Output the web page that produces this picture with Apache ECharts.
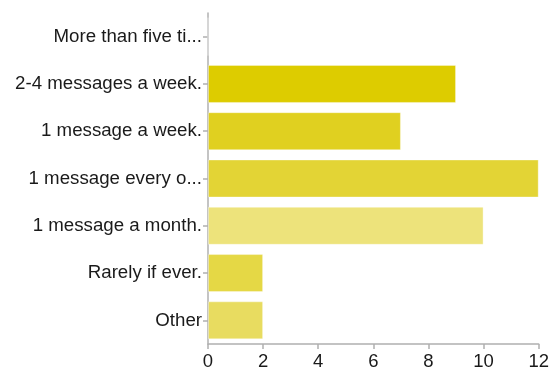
<!DOCTYPE html>
<html>
<head>
<meta charset="utf-8">
<script src="https://cdn.jsdelivr.net/npm/echarts@6/dist/echarts.min.js"></script>
<style>html,body{margin:0;padding:0;background:#fff;}#c{width:552px;height:372px;}</style>
</head>
<body>
<div id="c"></div>
<script>
const categories = ["More than five ti...", "2-4 messages a week.", "1 message a week.", "1 message every o...", "1 message a month.", "Rarely if ever.", "Other"];
const values = [0, 9, 7, 12, 10, 2, 2];
const barColors = ["#DDCC00", "#DDCC00", "#E0D020", "#E3D435", "#EDE37B", "#E5D845", "#E8DC60"];
const xTicks = [0, 2, 4, 6, 8, 10, 12];

const chart = echarts.init(document.getElementById('c'), null, {renderer: 'canvas'});
chart.setOption({
  animation: false,
  grid: {left: 208, right: 13, top: 13, bottom: 28, containLabel: false},
  xAxis: {
    type: 'value', min: xTicks[0], max: xTicks[xTicks.length - 1], interval: 2,
    axisLine: {show: true, lineStyle: {color: '#b0b0b0', width: 1.5}},
    axisTick: {show: true, length: 5, lineStyle: {color: '#b0b0b0', width: 1.5}},
    splitLine: {show: false},
    axisLabel: {color: '#1a1a1a', fontSize: 18.5, fontFamily: 'Liberation Sans, Arial, sans-serif', margin: 8}
  },
  yAxis: {
    type: 'category', data: categories, inverse: true,
    axisLine: {show: true, lineStyle: {color: '#b0b0b0', width: 1.5}},
    axisTick: {show: true, length: 5, alignWithLabel: true, lineStyle: {color: '#b0b0b0', width: 1.5}},
    axisLabel: {color: '#1a1a1a', fontSize: 18.7, fontFamily: 'Liberation Sans, Arial, sans-serif', margin: 6}
  },
  series: [{
    type: 'bar',
    data: values.map((v, i) => ({value: v, itemStyle: {color: barColors[i]}})),
    barWidth: 38,
    itemStyle: {borderColor: 'rgba(255,255,255,0.35)', borderWidth: 1}
  }]
});
</script>
</body>
</html>
